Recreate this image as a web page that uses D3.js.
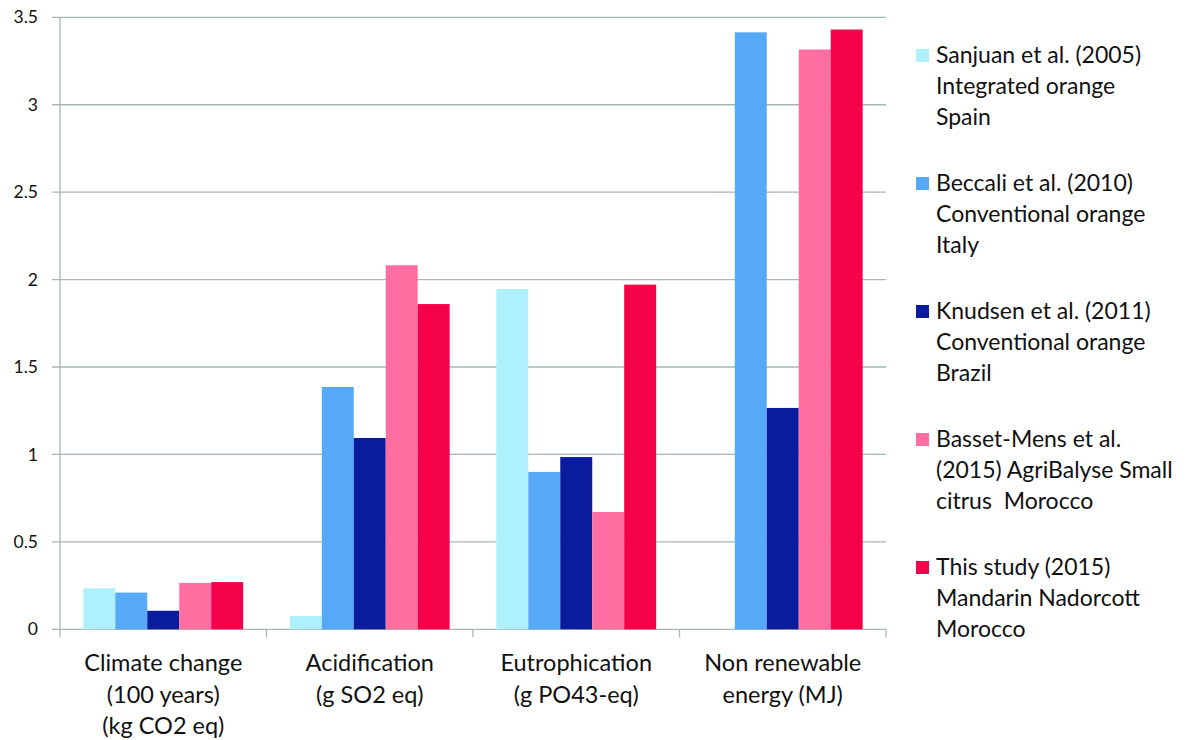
<!DOCTYPE html>
<html lang="en">
<head>
  <meta charset="UTF-8">
  <title>LCA comparison</title>
  <script src="https://d3js.org/d3.v7.min.js"></script>
  <style>
    body { margin: 0; background: #fff; }
    svg { display: block; font-family: Lato, "Open Sans", sans-serif; }
  </style>
</head>
<body>
  <div id="chart"></div>
  <script>
    const categories = [
      ["Climate change", "(100 years)", "(kg CO2 eq)"],
      ["Acidification", "(g SO2 eq)"],
      ["Eutrophication", "(g PO43-eq)"],
      ["Non renewable", "energy (MJ)"]
    ]
    const seriesNames = [
      ["Sanjuan et al. (2005)", "Integrated orange", "Spain"],
      ["Beccali et al. (2010)", "Conventional orange", "Italy"],
      ["Knudsen et al. (2011)", "Conventional orange", "Brazil"],
      ["Basset-Mens et al.", "(2015) AgriBalyse Small", "citrus\u00a0 Morocco"],
      ["This study (2015)", "Mandarin Nadorcott", "Morocco"]
    ]
    const seriesColors = ["#aef0fb", "#56a9f7", "#0a1c9c", "#ff6ea0", "#f5004a"]
    // one array per series, values for the 4 categories
    const sanjuan = [0.234, 0.076, 1.946, 0]
    const beccali = [0.21, 1.386, 0.9, 3.414]
    const knudsen = [0.106, 1.094, 0.985, 1.266]
    const basset = [0.265, 2.082, 0.671, 3.316]
    const thisStudy = [0.27, 1.86, 1.971, 3.43]
    const values = [sanjuan, beccali, knudsen, basset, thisStudy]
    const yTicks = [0, 0.5, 1, 1.5, 2, 2.5, 3, 3.5]

    const width = 1188, height = 740
    const plotLeft = 60, plotRight = 886, plotTop = 17.3, plotBottom = 629.3
    const gridColor = "#a9b7b3"

    const svg = d3.select("#chart").append("svg")
      .attr("width", width).attr("height", height)

    const catIdx = d3.range(categories.length)
    const x0 = d3.scaleBand().domain(catIdx).range([plotLeft, plotRight]).padding(0)
    const x1 = d3.scaleBand().domain(d3.range(values.length))
      .range([0, x0.bandwidth()]).paddingInner(0).paddingOuter(0.73)
    const y = d3.scaleLinear().domain([0, 3.5]).range([plotBottom, plotTop])

    // gridlines + y ticks
    svg.append("g")
      .selectAll("line")
      .data(yTicks)
      .join("line")
      .attr("x1", plotLeft - 8).attr("x2", plotRight)
      .attr("y1", d => y(d)).attr("y2", d => y(d))
      .attr("stroke", gridColor).attr("stroke-width", 1.3)

    svg.append("g")
      .selectAll("text")
      .data(yTicks)
      .join("text")
      .attr("x", 38).attr("y", d => y(d))
      .attr("dy", "0.35em")
      .attr("text-anchor", "end")
      .attr("font-size", 17.5)
      .attr("fill", "#111")
      .text(d => d)

    // y axis line
    svg.append("line")
      .attr("x1", plotLeft).attr("x2", plotLeft)
      .attr("y1", plotTop).attr("y2", plotBottom)
      .attr("stroke", gridColor).attr("stroke-width", 1.3)

    // x category ticks
    const bounds = catIdx.map(i => x0(i)).concat([plotRight])
    svg.append("g")
      .selectAll("line")
      .data(bounds)
      .join("line")
      .attr("x1", d => d).attr("x2", d => d)
      .attr("y1", plotBottom).attr("y2", plotBottom + 8)
      .attr("stroke", gridColor).attr("stroke-width", 1.3)

    // bars
    const groups = svg.append("g")
      .selectAll("g")
      .data(values)
      .join("g")
      .attr("fill", (_, i) => seriesColors[i])

    groups.each(function (vals, si) {
      d3.select(this).selectAll("rect")
        .data(vals)
        .join("rect")
        .attr("x", (_, ci) => x0(ci) + x1(si))
        .attr("width", x1.bandwidth())
        .attr("y", d => y(d))
        .attr("height", d => y(0) - y(d))
    })

    // category labels
    const catLabels = svg.append("g")
      .selectAll("text")
      .data(categories)
      .join("text")
      .attr("text-anchor", "middle")
      .attr("font-size", 23.5)
      .attr("fill", "#111")
    catLabels.selectAll("tspan")
      .data((d, i) => d.map(t => ({ t, i })))
      .join("tspan")
      .attr("x", d => x0(d.i) + x0.bandwidth() / 2)
      .attr("y", (_, j) => 671 + j * 31.5)
      .text(d => d.t)

    // legend
    const legend = svg.append("g")
    const legendItems = legend.selectAll("g")
      .data(seriesNames)
      .join("g")
      .attr("transform", (_, i) => `translate(916, ${63 + i * 128})`)
    legendItems.append("rect")
      .attr("x", 0).attr("y", -14)
      .attr("width", 13).attr("height", 13)
      .attr("fill", (_, i) => seriesColors[i])
    legendItems.append("text")
      .attr("font-size", 23)
      .attr("fill", "#111")
      .selectAll("tspan")
      .data(d => d)
      .join("tspan")
      .attr("x", 20)
      .attr("y", (_, j) => j * 31)
      .text(d => d)
  </script>
</body>
</html>
